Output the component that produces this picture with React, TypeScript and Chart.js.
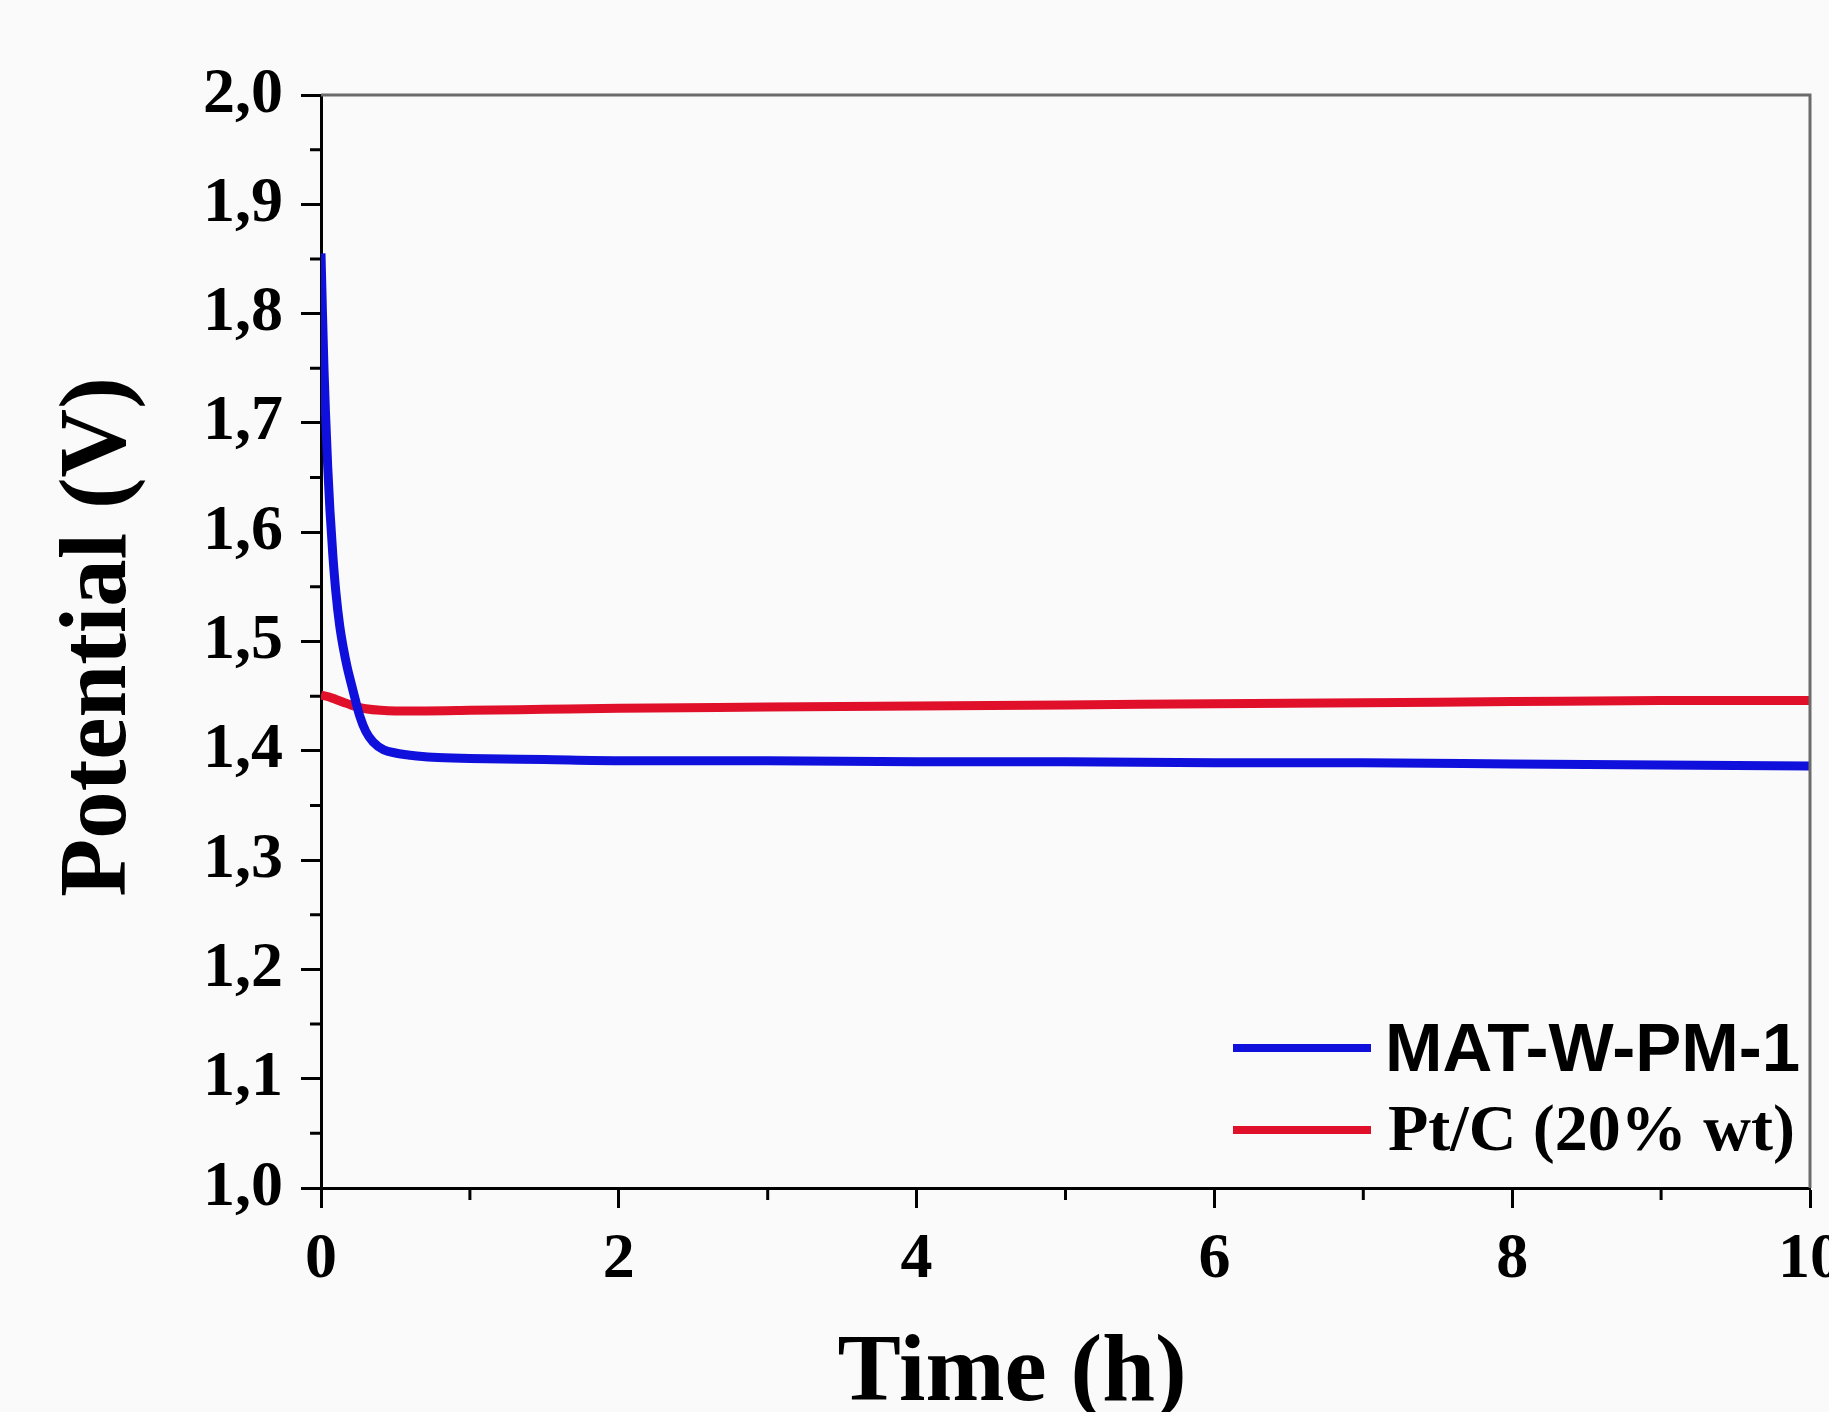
import { useEffect, useRef } from 'react';
import { Chart, registerables } from 'chart.js';

Chart.register(...registerables);

// ---- Data ----
const matTime = [0, 0.01, 0.02, 0.03, 0.045, 0.06, 0.08, 0.1, 0.125, 0.15, 0.175, 0.2, 0.23, 0.26, 0.3, 0.35, 0.42, 0.5, 0.6, 0.75, 1.0, 1.5, 2, 3, 4, 5, 6, 7, 8, 9, 10];
const matPotential = [1.855, 1.8, 1.75, 1.71, 1.66, 1.62, 1.578, 1.545, 1.515, 1.494, 1.477, 1.463, 1.447, 1.432, 1.418, 1.408, 1.401, 1.398, 1.396, 1.394, 1.393, 1.392, 1.391, 1.391, 1.39, 1.39, 1.389, 1.389, 1.388, 1.387, 1.386];

const ptTime = [0, 0.05, 0.1, 0.15, 0.2, 0.25, 0.3, 0.4, 0.5, 0.7, 1, 1.5, 2, 3, 4, 5, 6, 7, 8, 9, 10];
const ptPotential = [1.451, 1.4495, 1.447, 1.4445, 1.442, 1.44, 1.4385, 1.437, 1.4365, 1.4365, 1.437, 1.438, 1.439, 1.44, 1.441, 1.442, 1.443, 1.444, 1.445, 1.446, 1.446];

const seriesLabels = ['MAT-W-PM-1', 'Pt/C (20% wt)'];
const xTitle = 'Time (h)';
const yTitle = 'Potential (V)';
const xMinorTicks = [1, 3, 5, 7, 9];
const yMinorTicks = [1.05, 1.15, 1.25, 1.35, 1.45, 1.55, 1.65, 1.75, 1.85, 1.95];

const BG = '#fafafa';
const BLUE = '#1010dd';
const RED = '#e0102a';
const SERIF = '"Liberation Serif", "Times New Roman", serif';
const SANS = '"Liberation Sans", Arial, sans-serif';

const decorPlugin = {
  id: 'decor',
  beforeDraw(chart: any) {
    const { ctx, width, height } = chart;
    ctx.save();
    ctx.fillStyle = BG;
    ctx.fillRect(0, 0, width, height);
    ctx.restore();
  },
  afterDraw(chart: any) {
    const { ctx, chartArea } = chart;
    const xs = chart.scales.x;
    const ys = chart.scales.y;
    ctx.save();
    // top & right frame
    ctx.strokeStyle = '#6b6b6b';
    ctx.lineWidth = 3;
    ctx.beginPath();
    ctx.moveTo(chartArea.left, chartArea.top);
    ctx.lineTo(chartArea.right, chartArea.top);
    ctx.lineTo(chartArea.right, chartArea.bottom);
    ctx.stroke();
    // minor ticks
    ctx.strokeStyle = '#000';
    ctx.lineWidth = 3;
    ctx.beginPath();
    xMinorTicks.forEach((v) => {
      const px = xs.getPixelForValue(v);
      ctx.moveTo(px, chartArea.bottom);
      ctx.lineTo(px, chartArea.bottom + 12);
    });
    yMinorTicks.forEach((v) => {
      const py = ys.getPixelForValue(v);
      ctx.moveTo(chartArea.left - 11, py);
      ctx.lineTo(chartArea.left, py);
    });
    ctx.stroke();

    // legend
    const lx0 = chartArea.right - 577;
    const lx1 = chartArea.right - 439;
    const tx = chartArea.right - 425;
    const yBlue = chartArea.bottom - 140;
    const yRed = chartArea.bottom - 58;
    ctx.lineWidth = 8;
    ctx.strokeStyle = BLUE;
    ctx.beginPath();
    ctx.moveTo(lx0, yBlue);
    ctx.lineTo(lx1, yBlue);
    ctx.stroke();
    ctx.strokeStyle = RED;
    ctx.beginPath();
    ctx.moveTo(lx0, yRed);
    ctx.lineTo(lx1, yRed);
    ctx.stroke();
    ctx.fillStyle = '#000';
    ctx.textAlign = 'left';
    ctx.textBaseline = 'alphabetic';
    ctx.font = `bold 69px ${SANS}`;
    ctx.fillText(seriesLabels[0], tx, yBlue + 23);
    ctx.font = `bold 66px ${SERIF}`;
    ctx.fillText(seriesLabels[1], tx + 3, yRed + 20);

    // axis titles
    ctx.font = `bold 95px ${SERIF}`;
    ctx.textAlign = 'center';
    ctx.fillText(xTitle, 1012, 1400);
    ctx.translate(125, 637);
    ctx.rotate(-Math.PI / 2);
    ctx.fillText(yTitle, 0, 0);
    ctx.restore();
  },
};

export default function App() {
  const ref = useRef<HTMLCanvasElement>(null);
  useEffect(() => {
    document.body.style.margin = '0';
    document.body.style.background = BG;
    const chart = new Chart(ref.current as HTMLCanvasElement, {
      type: 'line',
      data: {
        datasets: [
          {
            label: seriesLabels[0],
            data: matTime.map((t, i) => ({ x: t, y: matPotential[i] })),
            borderColor: BLUE,
            borderWidth: 9,
            pointRadius: 0,
            fill: false,
            cubicInterpolationMode: 'monotone',
          },
          {
            label: seriesLabels[1],
            data: ptTime.map((t, i) => ({ x: t, y: ptPotential[i] })),
            borderColor: RED,
            borderWidth: 9,
            pointRadius: 0,
            fill: false,
            cubicInterpolationMode: 'monotone',
          },
        ],
      },
      options: {
        responsive: false,
        animation: false,
        devicePixelRatio: 1,
        layout: { padding: { top: 95, right: 70, bottom: 0, left: 0 } },
        plugins: { legend: { display: false }, tooltip: { enabled: false } },
        scales: {
          x: {
            type: 'linear',
            min: 0,
            max: 10,
            ticks: {
              stepSize: 2,
              color: '#000',
              font: { family: SERIF, weight: 'bold', size: 64 },
              padding: 14,
              maxRotation: 0,
              autoSkip: false,
            },
            grid: { display: true, drawOnChartArea: false, drawTicks: true, tickLength: 20, tickWidth: 3, tickColor: '#000' },
            border: { display: true, color: '#000', width: 3 },
            afterFit: (s: any) => { s.height = 224; },
          },
          y: {
            type: 'linear',
            min: 1,
            max: 2,
            ticks: {
              stepSize: 0.1,
              color: '#000',
              font: { family: SERIF, weight: 'bold', size: 64 },
              padding: 18,
              callback: (v: any) => Number(v).toFixed(1).replace('.', ','),
            },
            grid: { display: true, drawOnChartArea: false, drawTicks: true, tickLength: 20, tickWidth: 3, tickColor: '#000' },
            border: { display: true, color: '#000', width: 3 },
            afterFit: (s: any) => { s.width = 321; },
          },
        },
      },
      plugins: [decorPlugin],
    } as any);
    return () => chart.destroy();
  }, []);
  return (
    <div style={{ width: 1829, height: 1412, overflow: 'hidden', background: BG }}>
      <canvas ref={ref} width={1880} height={1412} style={{ display: 'block' }} />
    </div>
  );
}
